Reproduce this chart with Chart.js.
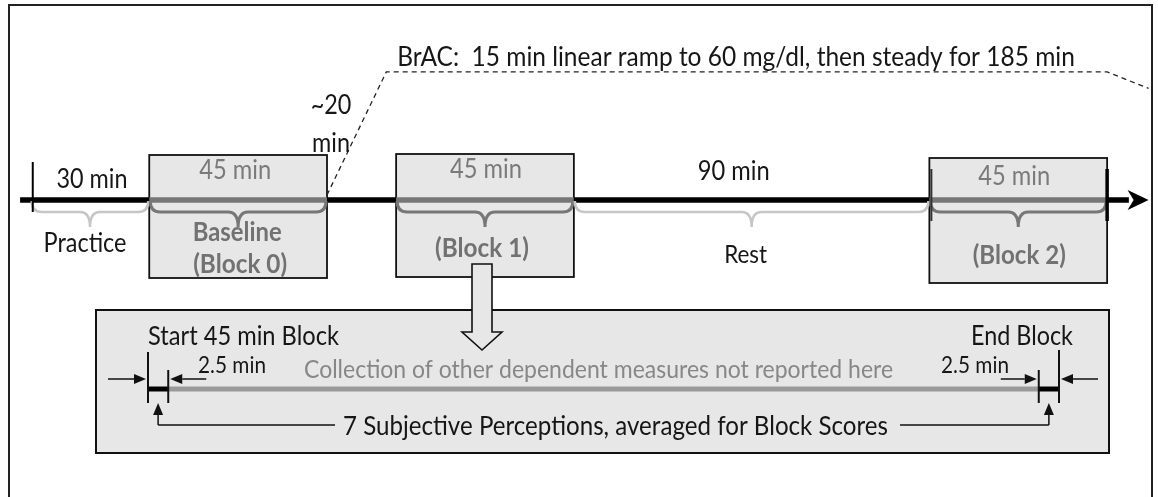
<!DOCTYPE html>
<html>
<head>
<meta charset="utf-8">
<script src="https://cdn.jsdelivr.net/npm/chart.js@4.4.1/dist/chart.umd.min.js"></script>
<style>
  html, body { margin: 0; padding: 0; background: #fff; }
  canvas { display: block; }
</style>
</head>
<body>
<canvas id="session" width="1158" height="497"></canvas>
<script>
// --- session timeline (minutes) ---
const phases = ['Practice', 'Baseline', 'Ramp', 'Block 1', 'Rest', 'Block 2'];
const durations = [30, 45, 17.5, 45, 90, 45];
const durationLabels = ['30 min', '45 min', '~20 min', '45 min', '90 min', '45 min'];
const isBlock = [false, true, false, true, false, true];
const phaseLabels = [['Practice'], ['Baseline', '(Block 0)'], [], ['(Block 1)'], ['Rest'], ['(Block 2)']];

// --- BrAC profile (minute, mg/dl) ---
const bracTime = [75, 90, 272.5, 283];
const bracLevel = [0, 60, 60, 52];
const bracLabel = 'BrAC:  15 min linear ramp to 60 mg/dl, then steady for 185 min';

// --- one 45 min block in detail (minutes, window width as drawn) ---
const blockMarks = [0, 1, 44, 45];
const detailTexts = ['Start 45 min Block', 'End Block', '2.5 min',
  'Collection of other dependent measures not reported here',
  '7 Subjective Perceptions, averaged for Block Scores'];

// phase boundaries
const bounds = [0];
durations.forEach(d => bounds.push(bounds[bounds.length - 1] + d));
const lineX = [-2.7, ...bounds, 278];
const lineColors = lineX.slice(1).map((_, i) => (i >= 1 && i <= 6 && isBlock[i - 1]) ? '#777' : '#000');

const FONT = 'Lato, "Open Sans", sans-serif';
const TALL = 1.12; // narrow, tall lettering like the original

function fitText(ctx, str, x, y, w, opt) {
  opt = opt || {};
  const weight = opt.bold ? 'bold ' : '';
  let size = opt.size;
  if (!size) {
    ctx.font = weight + '20px ' + FONT;
    size = 20 * w / ctx.measureText(str).width;
  }
  ctx.save();
  ctx.translate(x, y);
  ctx.scale(1 / TALL, 1);
  ctx.font = weight + (size * TALL).toFixed(2) + 'px ' + FONT;
  ctx.textAlign = opt.align || 'center';
  ctx.textBaseline = 'alphabetic';
  ctx.fillStyle = opt.color || '#161616';
  ctx.fillText(str, 0, 0);
  ctx.restore();
  return size;
}

function brace(ctx, x1, x2, y0, color, lw) {
  const arm = 11, tip = 26, r = 10, xm = (x1 + x2) / 2;
  ctx.beginPath();
  ctx.moveTo(x1, y0);
  ctx.quadraticCurveTo(x1, y0 + arm, x1 + r, y0 + arm);
  ctx.lineTo(xm - r, y0 + arm);
  ctx.quadraticCurveTo(xm, y0 + arm, xm, y0 + tip);
  ctx.quadraticCurveTo(xm, y0 + arm, xm + r, y0 + arm);
  ctx.lineTo(x2 - r, y0 + arm);
  ctx.quadraticCurveTo(x2, y0 + arm, x2, y0);
  ctx.strokeStyle = color;
  ctx.lineWidth = lw;
  ctx.stroke();
}

function line(ctx, x1, y1, x2, y2, lw, color) {
  ctx.beginPath();
  ctx.moveTo(x1, y1);
  ctx.lineTo(x2, y2);
  ctx.lineWidth = lw;
  ctx.strokeStyle = color || '#111';
  ctx.stroke();
}

function arrow(ctx, x1, y1, x2, y2) {
  const a = Math.atan2(y2 - y1, x2 - x1), len = 12, hw = 5;
  line(ctx, x1, y1, x2 - Math.cos(a) * len, y2 - Math.sin(a) * len, 1.5);
  ctx.beginPath();
  ctx.moveTo(x2, y2);
  ctx.lineTo(x2 - Math.cos(a) * len - Math.sin(a) * hw, y2 - Math.sin(a) * len + Math.cos(a) * hw);
  ctx.lineTo(x2 - Math.cos(a) * len + Math.sin(a) * hw, y2 - Math.sin(a) * len - Math.cos(a) * hw);
  ctx.closePath();
  ctx.fillStyle = '#111';
  ctx.fill();
}

const boxRows = [[155, 278], [154, 277], [158, 283]];

const sessionPlugin = {
  id: 'session',
  beforeDatasetsDraw(chart) {
    const ctx = chart.ctx, X = v => chart.scales.x.getPixelForValue(v);
    ctx.save();
    // outer frame
    ctx.strokeStyle = '#222';
    ctx.lineWidth = 2;
    ctx.strokeRect(9, 5, 1143, 540);
    // block boxes
    let b = 0;
    durations.forEach((d, i) => {
      if (!isBlock[i]) return;
      const [top, bottom] = boxRows[b++];
      const x0 = X(bounds[i]), x1 = X(bounds[i + 1]);
      ctx.fillStyle = '#e7e7e7';
      ctx.fillRect(x0, top, x1 - x0, bottom - top);
      ctx.strokeStyle = '#111';
      ctx.lineWidth = 1.8;
      ctx.strokeRect(x0, top, x1 - x0, bottom - top);
    });
    // detail panel
    ctx.fillStyle = '#e7e7e7';
    ctx.fillRect(96, 310, 1013, 143);
    ctx.lineWidth = 2;
    ctx.strokeRect(96, 310, 1013, 143);
    ctx.restore();
  },
  afterDatasetsDraw(chart) {
    const ctx = chart.ctx;
    const X = v => chart.scales.x.getPixelForValue(v);
    const D = v => chart.scales.xd.getPixelForValue(v);
    ctx.save();
    // braces under each phase
    durations.forEach((d, i) => {
      if (i === 2) return;
      const col = isBlock[i] ? '#777' : '#c6c6c6';
      brace(ctx, X(bounds[i]) + 1, X(bounds[i + 1]) - 1, 201, col, isBlock[i] ? 3 : 2.5);
    });
    // start tick and block 2 marks
    line(ctx, X(0) + 2, 162, X(0) + 2, 212, 2, '#000');
    line(ctx, X(bounds[5]) + 2, 169, X(bounds[5]) + 2, 221, 2, '#333');
    line(ctx, X(bounds[6]), 169, X(bounds[6]), 221, 3.5, '#000');
    // arrow head of the time axis
    const tipX = X(283);
    ctx.beginPath();
    ctx.moveTo(tipX, 200);
    ctx.lineTo(tipX - 21, 190);
    ctx.lineTo(tipX - 15, 200);
    ctx.lineTo(tipX - 21, 210);
    ctx.closePath();
    ctx.fillStyle = '#000';
    ctx.fill();

    // durations above the line
    const mid = i => X((bounds[i] + bounds[i + 1]) / 2);
    const base = fitText(ctx, durationLabels[0], mid(0) + 2, 188, 71);
    fitText(ctx, durationLabels[1], mid(1) - 3, 179, 72, { color: '#7a7a7a' });
    const ramp = durationLabels[2].split(' ');
    fitText(ctx, ramp[0], X(bounds[2]) + 4, 114, 0, { size: base });
    fitText(ctx, ramp[1], X(bounds[2]) + 4, 152, 0, { size: base });
    fitText(ctx, durationLabels[3], mid(3) + 1, 178, 72, { color: '#7a7a7a' });
    fitText(ctx, durationLabels[4], mid(4) - 18, 180, 72);
    fitText(ctx, durationLabels[5], mid(5) - 4, 185, 72, { color: '#7a7a7a' });

    // phase names under the braces
    fitText(ctx, phaseLabels[0][0], mid(0) - 5, 252, 83);
    fitText(ctx, phaseLabels[1][0], mid(1) - 1, 241, 89, { bold: true, color: '#727272' });
    fitText(ctx, phaseLabels[1][1], mid(1) + 2, 273, 94, { bold: true, color: '#727272' });
    fitText(ctx, phaseLabels[3][0], mid(3) - 3, 257, 94, { bold: true, color: '#727272' });
    fitText(ctx, phaseLabels[4][0], mid(4) - 6, 263, 43);
    fitText(ctx, phaseLabels[5][0], mid(5) + 1, 264, 93, { bold: true, color: '#727272' });

    // BrAC caption
    fitText(ctx, bracLabel, X(bracTime[1]) + 11, 66, 678, { align: 'left' });

    // hollow arrow from block 1 down to the detail panel
    const ax = mid(3) - 3;
    ctx.beginPath();
    ctx.moveTo(ax - 10, 264);
    ctx.lineTo(ax + 10, 264);
    ctx.lineTo(ax + 10, 332);
    ctx.lineTo(ax + 20, 332);
    ctx.lineTo(ax, 350);
    ctx.lineTo(ax - 20, 332);
    ctx.lineTo(ax - 10, 332);
    ctx.closePath();
    ctx.fillStyle = '#e7e7e7';
    ctx.fill();
    ctx.strokeStyle = '#111';
    ctx.lineWidth = 1.6;
    ctx.stroke();

    // detail panel marks
    const [s0, s1, e0, e1] = blockMarks.map(D);
    line(ctx, s0, 352, s0, 403, 2);
    line(ctx, s1, 370, s1, 403, 2);
    line(ctx, e0, 370, e0, 403, 2);
    line(ctx, e1, 350, e1, 403, 2);
    arrow(ctx, s0 - 40, 379, s0 - 2, 379);
    arrow(ctx, s1 + 38, 379, s1 + 2, 379);
    arrow(ctx, e0 - 38, 379, e0 - 2, 379);
    arrow(ctx, e1 + 39, 379, e1 + 2, 379);
    // perception connector
    const ux = (s0 + s1) / 2, vx = (e0 + e1) / 2;
    line(ctx, 335, 425, ux, 425, 1.5);
    arrow(ctx, ux, 425, ux, 403);
    line(ctx, 900, 425, vx, 425, 1.5);
    arrow(ctx, vx, 425, vx, 403);

    fitText(ctx, detailTexts[0], s0, 345, 191, { align: 'left' });
    fitText(ctx, detailTexts[1], 971, 345, 102, { align: 'left' });
    fitText(ctx, detailTexts[2], 198, 373, 68, { align: 'left' });
    fitText(ctx, detailTexts[2], 941, 373, 68, { align: 'left' });
    fitText(ctx, detailTexts[3], 304, 378, 589, { align: 'left', color: '#878787' });
    fitText(ctx, detailTexts[4], 343, 435, 545, { align: 'left' });
    ctx.restore();
  }
};

new Chart(document.getElementById('session'), {
  type: 'line',
  data: {
    datasets: [
      {
        label: 'Session',
        data: lineX.map(t => ({ x: t, y: 200 })),
        xAxisID: 'x', yAxisID: 'y',
        borderWidth: 5.5,
        borderCapStyle: 'butt',
        pointRadius: 0,
        segment: { borderColor: c => lineColors[c.p0DataIndex] }
      },
      {
        label: 'BrAC',
        data: bracTime.map((t, i) => ({ x: t, y: bracLevel[i] })),
        xAxisID: 'x', yAxisID: 'yb',
        borderColor: '#222',
        borderWidth: 1.3,
        borderDash: [5, 4],
        pointRadius: 0,
        tension: 0
      },
      {
        label: 'Block detail',
        data: blockMarks.map(t => ({ x: t, y: 389 })),
        xAxisID: 'xd', yAxisID: 'y',
        borderWidth: 5,
        borderCapStyle: 'butt',
        pointRadius: 0,
        segment: { borderColor: c => (c.p0DataIndex === 1 ? '#9a9a9a' : '#000') }
      }
    ]
  },
  options: {
    responsive: false,
    animation: false,
    events: [],
    layout: { padding: 0 },
    plugins: { legend: { display: false }, tooltip: { enabled: false } },
    scales: {
      x: { type: 'linear', display: false, min: -7.785, max: 285.38 },
      xd: { type: 'linear', axis: 'x', display: false, min: -7.31, max: 49.89 },
      y: { type: 'linear', display: false, min: 0, max: 497, reverse: true },
      yb: { type: 'linear', axis: 'y', display: false, min: -147.3, max: 95.1 }
    }
  },
  plugins: [sessionPlugin]
});
</script>
</body>
</html>
